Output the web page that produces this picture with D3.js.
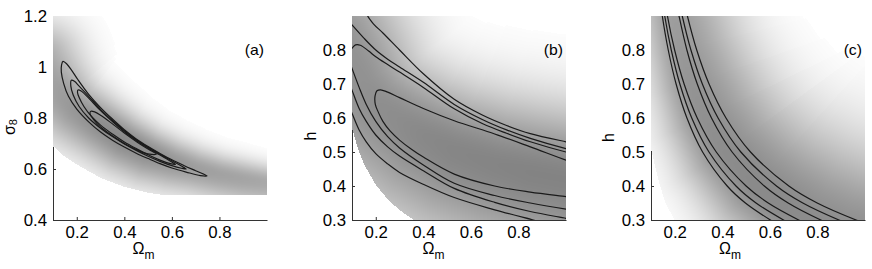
<!DOCTYPE html>
<html>
<head>
<meta charset="utf-8">
<script src="https://cdn.jsdelivr.net/npm/d3@7"></script>
<style>
body { margin: 0; background: #fff; }
svg { display: block; font-family: "Liberation Sans", Arial, sans-serif; }
</style>
</head>
<body>
<svg width="872" height="269"></svg>
<script>
const omegaTicks = [0.2, 0.4, 0.6, 0.8]
const sigma8Ticks = [0.4, 0.6, 0.8, 1, 1.2]
const hTicks = [0.3, 0.4, 0.5, 0.6, 0.7, 0.8]

// (a) closed likelihood contours, [Omega_m, sigma_8]
const contoursA = [
    [[0.142,1.022],[0.158,1.012],[0.180,0.985],[0.205,0.950],[0.250,0.893],[0.300,0.841],[0.350,0.796],[0.400,0.754],[0.450,0.718],[0.500,0.688],[0.550,0.661],[0.600,0.636],[0.650,0.614],[0.700,0.593],[0.748,0.573],
     [0.720,0.574],[0.660,0.588],[0.600,0.604],[0.550,0.621],[0.500,0.641],[0.450,0.662],[0.400,0.686],[0.350,0.713],[0.300,0.745],[0.250,0.785],[0.200,0.835],[0.165,0.885],[0.145,0.935],[0.135,0.980],[0.136,1.008]],
    [[0.177,0.948],[0.190,0.944],[0.210,0.925],[0.250,0.885],[0.300,0.834],[0.350,0.790],[0.400,0.750],[0.450,0.715],[0.500,0.685],[0.550,0.658],[0.600,0.632],[0.640,0.612],[0.660,0.600],
     [0.640,0.603],[0.600,0.613],[0.550,0.630],[0.500,0.650],[0.450,0.673],[0.400,0.698],[0.350,0.727],[0.300,0.760],[0.250,0.800],[0.210,0.845],[0.185,0.890],[0.175,0.925]],
    [[0.205,0.910],[0.220,0.905],[0.250,0.878],[0.300,0.829],[0.350,0.786],[0.400,0.746],[0.450,0.712],[0.500,0.682],[0.550,0.655],[0.600,0.627],[0.615,0.618],
     [0.590,0.622],[0.550,0.635],[0.500,0.656],[0.450,0.680],[0.400,0.706],[0.350,0.737],[0.300,0.772],[0.260,0.808],[0.230,0.845],[0.210,0.880],[0.203,0.900]],
    [[0.258,0.826],[0.275,0.824],[0.300,0.811],[0.350,0.777],[0.400,0.741],[0.450,0.708],[0.500,0.678],[0.535,0.658],
     [0.515,0.657],[0.480,0.664],[0.450,0.676],[0.400,0.700],[0.350,0.730],[0.300,0.765],[0.270,0.795],[0.256,0.815]]
]
// (a) grey likelihood: ridge line, darkness on it, spread above / below it, lower edge of the grid
const ridgeA = [[0.06,1.03],[0.10,0.95],[0.15,0.88],[0.20,0.835],[0.30,0.775],[0.40,0.715],[0.50,0.668],[0.60,0.632],[0.70,0.603],[0.80,0.58],[0.90,0.562],[1.00,0.548],[1.05,0.542]]
const darkA = [0.34,0.365,0.39,0.41,0.445,0.46,0.445,0.41,0.38,0.365,0.355,0.34,0.34]
const spreadUpA = [0.110,0.106,0.098,0.090,0.080,0.074,0.068,0.064,0.060,0.056,0.054,0.050,0.050]
const spreadDownA = [0.125,0.125,0.118,0.110,0.102,0.098,0.094,0.086,0.078,0.078,0.078,0.078,0.078]
const edgeA = [[0.10,0.69],[0.15,0.648],[0.20,0.618],[0.30,0.565],[0.40,0.53],[0.50,0.507],[0.55,0.50],[1.00,0.50]]

// (b) contour lines, [Omega_m, h]
const contoursB = [
    [[0.160,0.92],[0.164,0.903],[0.19,0.877],[0.23,0.850],[0.30,0.800],[0.40,0.730],[0.53,0.655],[0.65,0.608],[0.75,0.578],[0.85,0.554],[1.00,0.530],[1.02,0.527]],
    [[0.09,0.882],[0.10,0.874],[0.15,0.835],[0.20,0.800],[0.25,0.773],[0.30,0.750],[0.40,0.705],[0.53,0.640],[0.65,0.595],[0.75,0.565],[0.85,0.540],[1.00,0.510],[1.02,0.507]],
    [[0.09,0.80],[0.10,0.805],[0.115,0.815],[0.135,0.814],[0.17,0.797],[0.20,0.780],[0.25,0.757],[0.30,0.735],[0.40,0.690],[0.53,0.627],[0.65,0.583],[0.75,0.555],[0.85,0.530],[1.00,0.500],[1.02,0.497]],
    [[1.02,0.472],[1.00,0.476],[0.85,0.515],[0.70,0.553],[0.53,0.592],[0.40,0.628],[0.30,0.660],[0.25,0.676],[0.22,0.683],[0.205,0.680],[0.197,0.665],[0.198,0.640],[0.21,0.618],[0.23,0.590],[0.26,0.562],[0.30,0.535],[0.35,0.508],[0.40,0.485],[0.53,0.435],[0.70,0.400],[0.85,0.382],[1.00,0.369],[1.02,0.367]],
    [[0.09,0.765],[0.10,0.746],[0.13,0.690],[0.16,0.640],[0.20,0.590],[0.25,0.545],[0.30,0.512],[0.40,0.462],[0.53,0.408],[0.70,0.372],[0.85,0.350],[1.00,0.332],[1.02,0.330]],
    [[0.09,0.70],[0.10,0.682],[0.13,0.628],[0.16,0.590],[0.20,0.550],[0.25,0.515],[0.30,0.488],[0.40,0.445],[0.53,0.393],[0.70,0.352],[0.85,0.325],[1.00,0.305],[1.02,0.302]],
    [[0.09,0.63],[0.10,0.614],[0.13,0.565],[0.16,0.530],[0.20,0.495],[0.25,0.465],[0.30,0.440],[0.40,0.405],[0.53,0.366],[0.70,0.330],[0.8625,0.30],[0.90,0.293]]
]
const ridgeB = [[0.06,0.84],[0.10,0.78],[0.15,0.70],[0.20,0.65],[0.25,0.62],[0.30,0.595],[0.40,0.55],[0.53,0.505],[0.70,0.465],[0.85,0.44],[1.00,0.42],[1.05,0.415]]
const darkB = [0.42,0.425,0.43,0.44,0.445,0.45,0.465,0.475,0.48,0.485,0.485,0.485]
const spreadUpB = [0.14,0.14,0.138,0.136,0.136,0.137,0.14,0.145,0.15,0.153,0.155,0.155]
const spreadDownB = [0.2,0.2,0.2,0.2,0.2,0.2,0.2,0.2,0.2,0.2,0.2,0.2]
const edgeB = [[0.10,0.57],[0.125,0.51],[0.15,0.465],[0.20,0.403],[0.25,0.361],[0.30,0.329],[0.36,0.30]]

// (c) contour lines, [Omega_m, h]
const contoursC = [
    [[0.1437,0.92],[0.1475,0.90],[0.1725,0.80],[0.2056,0.70],[0.2511,0.60],[0.3170,0.50],[0.4204,0.40],[0.4970,0.35],[0.6022,0.30],[0.627,0.29]],
    [[0.1536,0.92],[0.1577,0.90],[0.1852,0.80],[0.2214,0.70],[0.2714,0.60],[0.3438,0.50],[0.4575,0.40],[0.5417,0.35],[0.6573,0.30],[0.6846,0.29]],
    [[0.1647,0.92],[0.1691,0.90],[0.1993,0.80],[0.2393,0.70],[0.2944,0.60],[0.3745,0.50],[0.5000,0.40],[0.5931,0.35],[0.7210,0.30],[0.7509,0.29]],
    [[0.2122,0.92],[0.2179,0.90],[0.2509,0.80],[0.2946,0.70],[0.3544,0.60],[0.4411,0.50],[0.5766,0.40],[0.6768,0.35],[0.8142,0.30],[0.848,0.29]],
    [[0.2255,0.92],[0.2315,0.90],[0.2679,0.80],[0.3160,0.70],[0.3821,0.60],[0.4778,0.50],[0.6276,0.40],[0.7384,0.35],[0.8906,0.30],[0.928,0.29]],
    [[0.2465,0.92],[0.2531,0.90],[0.2923,0.80],[0.3442,0.70],[0.4154,0.60],[0.5184,0.50],[0.6797,0.40],[0.7990,0.35],[0.9627,0.30],[1.003,0.29]]
]
const ridgeC = [[0.183,0.95],[0.190,0.92],[0.227,0.80],[0.269,0.70],[0.326,0.60],[0.409,0.50],[0.539,0.40],[0.635,0.35],[0.768,0.30],[0.893,0.265],[1.03,0.235]]
const darkC = [0.37,0.38,0.40,0.42,0.435,0.45,0.46,0.46,0.45,0.445,0.445]
const spreadUpC = [0.132,0.132,0.141,0.153,0.165,0.176,0.188,0.191,0.194,0.194,0.194]
const spreadDownC = [0.074,0.074,0.076,0.082,0.091,0.1,0.112,0.118,0.129,0.135,0.135]
const edgeC = [[0.10,0.51],[0.13,0.42],[0.16,0.35],[0.20,0.30]]

const plotTop = 16
const plotBottom = 220
const plotWidth = 214
const fontSize = 16
const stretchX = 1.05

const panels = [
    {left: 53, yDomain: [0.4, 1.2], yTicks: sigma8Ticks, contours: contoursA, closed: true,
     ridge: ridgeA, dark: darkA, up: spreadUpA, down: spreadDownA, edge: edgeA,
     label: "(a)", yName: "σ", ySub: "8", yLabelX: 15, yLabelY: 127, xLabelX: 143.5},
    {left: 352, yDomain: [0.3, 0.9], yTicks: hTicks, contours: contoursB, closed: false,
     ridge: ridgeB, dark: darkB, up: spreadUpB, down: spreadDownB, edge: edgeB,
     label: "(b)", yName: "h", ySub: "", yLabelX: 316, yLabelY: 136, xLabelX: 433.5},
    {left: 651, yDomain: [0.3, 0.9], yTicks: hTicks, contours: contoursC, closed: false,
     ridge: ridgeC, dark: darkC, up: spreadUpC, down: spreadDownC, edge: edgeC,
     label: "(c)", yName: "h", ySub: "", yLabelX: 613.5, yLabelY: 137.5, xLabelX: 730}
]

const svg = d3.select("svg")

const lerp = (arr, k) => {
    const i = Math.max(0, Math.min(arr.length - 2, Math.floor(k)))
    const t = Math.max(0, Math.min(1, k - i))
    return arr[i] * (1 - t) + arr[i + 1] * t
}

function shade(p, x, y) {
    const W = plotWidth, H = plotBottom - plotTop + 1
    const canvas = document.createElement("canvas")
    canvas.width = W
    canvas.height = H
    const ctx = canvas.getContext("2d")
    const img = ctx.createImageData(W, H)
    const pxPerUnit = Math.abs(y(0) - y(1))
    const pts = p.ridge.map(d => [x(d[0]) - p.left, y(d[1]) - plotTop])
    const edge = d3.scaleLinear()
        .domain(p.edge.map(d => d[0]))
        .range(p.edge.map(d => d[1]))
        .clamp(true)
    for (let r = 0; r < H; r++) {
        for (let c = 0; c < W; c++) {
            const px = c + 0.5, py = r + 0.5
            const om = x.invert(p.left + px), yv = y.invert(plotTop + py)
            if (yv < edge(om)) continue
            let best = Infinity, bk = 0, upper = true
            for (let i = 0; i < pts.length - 1; i++) {
                const ax = pts[i][0], ay = pts[i][1]
                const dx = pts[i + 1][0] - ax, dy = pts[i + 1][1] - ay
                let t = ((px - ax) * dx + (py - ay) * dy) / (dx * dx + dy * dy)
                t = Math.max(0, Math.min(1, t))
                const qx = ax + t * dx - px, qy = ay + t * dy - py
                const d2 = qx * qx + qy * qy
                if (d2 < best) {
                    best = d2
                    bk = i + t
                    upper = dx * (py - ay) - dy * (px - ax) < 0
                }
            }
            const s = (upper ? lerp(p.up, bk) : lerp(p.down, bk)) * pxPerUnit
            const g = 255 * (1 - lerp(p.dark, bk) * Math.exp(-0.5 * best / (s * s)))
            if (g >= 252) continue
            const o = (r * W + c) * 4
            img.data[o] = img.data[o + 1] = img.data[o + 2] = Math.round(g)
            img.data[o + 3] = 255
        }
    }
    ctx.putImageData(img, 0, 0)
    return canvas.toDataURL()
}

panels.forEach((p, n) => {
    const x = d3.scaleLinear().domain([0.1, 1.0]).range([p.left, p.left + plotWidth])
    const y = d3.scaleLinear().domain(p.yDomain).range([plotBottom, plotTop])
    const g = svg.append("g")

    g.append("g")
        .attr("transform", `translate(0, ${plotBottom})`)
        .call(d3.axisBottom(x).tickValues(omegaTicks).tickSizeInner(-3).tickSizeOuter(0).tickPadding(7).tickFormat(d => String(d)))
    g.append("g")
        .attr("transform", `translate(${p.left}, 0)`)
        .call(d3.axisLeft(y).tickValues(p.yTicks).tickSizeInner(-3).tickSizeOuter(0).tickPadding(6).tickFormat(d => String(d)))
    g.selectAll(".domain, .tick line").attr("stroke", "#333")
    g.selectAll(".tick text").attr("fill", "#000").style("font-size", fontSize + "px")
    g.selectAll("g").attr("font-family", null).attr("font-size", null)

    g.append("image")
        .attr("x", p.left)
        .attr("y", plotTop)
        .attr("width", plotWidth)
        .attr("height", plotBottom - plotTop + 1)
        .attr("href", shade(p, x, y))

    g.append("clipPath")
        .attr("id", "clip" + n)
        .append("rect")
        .attr("x", p.left)
        .attr("y", plotTop)
        .attr("width", plotWidth)
        .attr("height", plotBottom - plotTop)

    const line = d3.line()
        .x(d => x(d[0]))
        .y(d => y(d[1]))
        .curve(p.closed ? d3.curveCatmullRomClosed.alpha(0.5) : d3.curveCatmullRom.alpha(0.5))

    g.append("g")
        .attr("clip-path", `url(#clip${n})`)
        .selectAll("path")
        .data(p.contours)
        .enter()
        .append("path")
        .attr("d", line)
        .attr("fill", "none")
        .attr("stroke", "#1a1a1a")
        .attr("stroke-width", 1.2)

    g.append("text")
        .attr("class", "stretch")
        .attr("x", p.left + plotWidth - 3)
        .attr("y", 55)
        .attr("text-anchor", "end")
        .style("font-size", "15px")
        .text(p.label)

    const yl = g.append("text")
        .attr("transform", `translate(${p.yLabelX}, ${p.yLabelY}) rotate(-90)`)
        .attr("text-anchor", "middle")
        .style("font-size", fontSize + "px")
    yl.append("tspan").text(p.yName)
    if (p.ySub) yl.append("tspan").attr("dy", 2).style("font-size", "11px").text(p.ySub)

    const xl = g.append("text")
        .attr("x", p.xLabelX)
        .attr("y", 254)
        .attr("text-anchor", "middle")
        .style("font-size", fontSize + "px")
    xl.append("tspan").text("Ω")
    xl.append("tspan").attr("dy", 5).style("font-size", "12px").text("m")
})

svg.selectAll(".tick text, text.stretch").each(function () {
    const w = this.getComputedTextLength()
    this.setAttribute("textLength", w * stretchX)
    this.setAttribute("lengthAdjust", "spacingAndGlyphs")
})
</script>
</body>
</html>
